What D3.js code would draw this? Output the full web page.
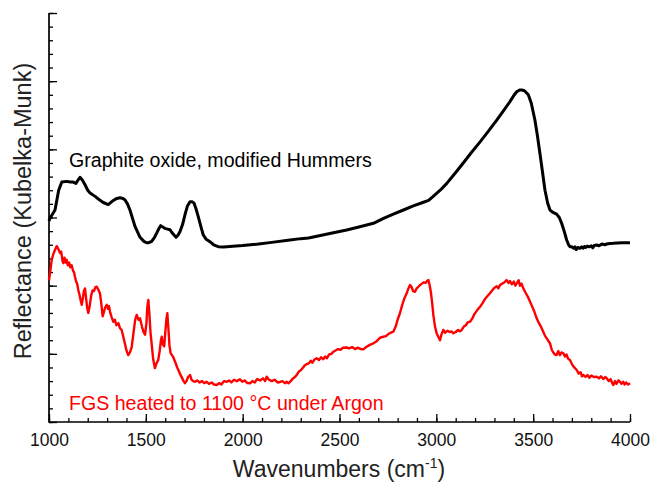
<!DOCTYPE html>
<html>
<head>
<meta charset="utf-8">
<script src="https://cdn.jsdelivr.net/npm/d3@7/dist/d3.min.js"></script>
<style>
html,body{margin:0;padding:0;background:#fff;}
svg{display:block;font-family:"Liberation Sans",Arial,sans-serif;}
</style>
</head>
<body>
<svg id="chart" width="654" height="490"></svg>
<script>
// ---- data (wavenumber cm-1, reflectance in arbitrary units) ----
const graphiteOxide = [
[1000,2.95],[1005,2.99],[1031,3.11],[1050,3.40],[1066,3.52],[1091,3.53],[1110,3.52],[1125,3.52],[1139,3.50],[1150,3.55],
[1160,3.59],[1172,3.55],[1186,3.48],[1200,3.40],[1212,3.36],[1238,3.31],[1260,3.26],[1280,3.22],[1306,3.19],[1332,3.25],
[1350,3.28],[1367,3.29],[1380,3.28],[1392,3.26],[1405,3.20],[1418,3.11],[1444,2.87],[1470,2.71],[1490,2.65],[1504,2.63],
[1515,2.63],[1530,2.65],[1545,2.71],[1556,2.77],[1568,2.84],[1577,2.88],[1588,2.86],[1599,2.84],[1612,2.83],[1625,2.82],
[1640,2.76],[1656,2.71],[1666,2.74],[1676,2.79],[1690,2.90],[1702,3.04],[1715,3.17],[1728,3.23],[1740,3.23],[1749,3.21],
[1760,3.12],[1771,3.01],[1785,2.86],[1797,2.74],[1812,2.68],[1831,2.645],[1850,2.60],[1874,2.572],[1900,2.568],[1918,2.572],
[1950,2.578],[2000,2.588],[2072,2.607],[2150,2.635],[2244,2.67],[2300,2.69],[2340,2.70],[2365,2.714],[2450,2.765],[2537,2.817],
[2600,2.86],[2675,2.915],[2730,2.99],[2778,3.05],[2830,3.11],[2881,3.17],[2930,3.22],[2960,3.25],[2984,3.31],[3020,3.40],
[3054,3.50],[3100,3.66],[3139,3.80],[3180,3.95],[3226,4.11],[3270,4.27],[3312,4.43],[3350,4.58],[3380,4.70],[3400,4.79],
[3415,4.845],[3430,4.87],[3441,4.87],[3455,4.86],[3475,4.80],[3490,4.68],[3509,4.43],[3522,4.20],[3535,3.94],[3548,3.67],
[3561,3.40],[3575,3.21],[3587,3.11],[3600,3.08],[3621,3.05],[3635,3.00],[3647,2.915],[3660,2.80],[3673,2.67],[3683,2.60],
[3690,2.572],[3700,2.57],[3708,2.55],[3715,2.57],[3722,2.53],[3730,2.56],[3742,2.548],[3750,2.57],[3758,2.55],[3765,2.575],
[3772,2.56],[3780,2.58],[3790,2.57],[3800,2.585],[3808,2.555],[3815,2.59],[3828,2.597],[3840,2.585],[3855,2.61],[3870,2.60],
[3885,2.615],[3900,2.62],[3914,2.621],[3935,2.625],[3960,2.63],[3980,2.628],[4000,2.63]
];
const fgsArgon = [
[1000,2.08],[1007,2.22],[1014,2.38],[1022,2.46],[1030,2.52],[1040,2.58],[1048,2.54],[1057,2.48],[1063,2.50],[1070,2.36],
[1074,2.33],[1080,2.41],[1086,2.34],[1091,2.38],[1097,2.30],[1104,2.34],[1110,2.27],[1117,2.30],[1124,2.22],[1130,2.19],
[1134,2.13],[1140,2.06],[1146,2.02],[1151,1.94],[1158,1.86],[1164,1.78],[1169,1.72],[1175,1.82],[1180,1.92],[1186,1.96],
[1192,1.80],[1198,1.66],[1203,1.60],[1210,1.70],[1218,1.86],[1225,1.93],[1232,1.92],[1240,1.98],[1246,1.985],[1255,1.94],
[1263,1.89],[1270,1.74],[1277,1.55],[1284,1.62],[1290,1.68],[1298,1.72],[1305,1.66],[1310,1.70],[1315,1.62],[1322,1.55],
[1332,1.47],[1340,1.50],[1348,1.42],[1358,1.45],[1366,1.38],[1375,1.35],[1383,1.26],[1392,1.15],[1400,1.05],[1409,0.98],
[1418,1.02],[1427,1.10],[1436,1.30],[1445,1.50],[1453,1.57],[1462,1.50],[1470,1.52],[1480,1.40],[1488,1.32],[1496,1.28],
[1503,1.45],[1508,1.70],[1513,1.79],[1518,1.60],[1524,1.32],[1530,1.15],[1538,0.92],[1547,0.79],[1555,0.86],[1564,0.91],
[1572,1.05],[1578,1.20],[1582,1.25],[1588,1.14],[1595,1.11],[1600,1.30],[1606,1.50],[1611,1.595],[1617,1.35],[1622,1.12],
[1628,1.01],[1640,0.96],[1651,0.885],[1662,0.80],[1676,0.71],[1688,0.64],[1695,0.60],[1702,0.57],[1710,0.60],[1718,0.66],
[1728,0.69],[1736,0.62],[1745,0.60],[1754,0.59],[1765,0.61],[1778,0.58],[1790,0.60],[1802,0.57],[1814,0.59],[1826,0.56],
[1840,0.58],[1852,0.55],[1866,0.543],[1878,0.57],[1890,0.55],[1904,0.60],[1918,0.59],[1930,0.61],[1942,0.58],[1955,0.62],
[1970,0.60],[1986,0.626],[1998,0.59],[2010,0.61],[2024,0.57],[2038,0.568],[2050,0.60],[2062,0.58],[2075,0.63],[2090,0.61],
[2105,0.64],[2116,0.60],[2124,0.665],[2136,0.62],[2150,0.60],[2165,0.62],[2180,0.58],[2193,0.587],[2205,0.60],[2218,0.57],
[2228,0.59],[2236,0.568],[2248,0.60],[2260,0.64],[2270,0.66],[2279,0.689],[2290,0.74],[2300,0.76],[2312,0.80],[2320,0.83],
[2331,0.851],[2342,0.86],[2352,0.90],[2360,0.87],[2372,0.92],[2382,0.934],[2394,0.91],[2405,0.95],[2416,0.92],[2426,0.96],
[2434,0.934],[2446,0.99],[2458,1.00],[2468,1.031],[2480,1.05],[2492,1.07],[2505,1.06],[2518,1.09],[2537,1.093],[2550,1.08],
[2565,1.10],[2580,1.07],[2595,1.09],[2610,1.07],[2623,1.066],[2638,1.10],[2650,1.12],[2662,1.14],[2675,1.154],[2690,1.18],
[2700,1.21],[2712,1.24],[2726,1.251],[2740,1.26],[2752,1.29],[2765,1.31],[2778,1.325],[2790,1.40],[2800,1.50],[2812,1.595],
[2822,1.70],[2833,1.80],[2847,1.888],[2856,1.96],[2864,2.01],[2872,1.98],[2880,1.92],[2890,1.911],[2898,1.96],[2906,1.98],
[2916,2.01],[2926,2.03],[2936,2.05],[2945,2.04],[2952,2.07],[2959,2.083],[2966,2.00],[2972,1.90],[2978,1.76],[2985,1.56],
[2993,1.40],[3002,1.30],[3010,1.25],[3019,1.20],[3026,1.28],[3036,1.35],[3046,1.31],[3058,1.34],[3068,1.32],[3078,1.33],
[3088,1.301],[3100,1.32],[3112,1.35],[3122,1.33],[3131,1.35],[3142,1.40],[3152,1.42],[3162,1.46],[3174,1.471],[3186,1.52],
[3196,1.58],[3206,1.62],[3216,1.66],[3226,1.691],[3238,1.74],[3250,1.80],[3262,1.84],[3277,1.888],[3288,1.93],[3300,1.97],
[3312,1.99],[3320,1.96],[3329,2.01],[3340,2.03],[3352,2.05],[3363,2.083],[3372,2.04],[3380,2.07],[3390,2.02],[3400,2.06],
[3408,2.00],[3415,2.035],[3425,2.08],[3432,2.00],[3440,2.03],[3449,1.961],[3460,1.90],[3472,1.84],[3484,1.765],[3494,1.70],
[3506,1.62],[3518,1.521],[3530,1.45],[3540,1.40],[3552,1.325],[3562,1.26],[3572,1.22],[3580,1.18],[3587,1.154],[3596,1.06],
[3604,1.02],[3612,0.99],[3621,0.983],[3630,1.04],[3638,0.98],[3646,1.02],[3656,1.008],[3664,0.96],[3672,0.99],[3680,0.93],
[3690,0.909],[3700,0.85],[3712,0.80],[3725,0.763],[3735,0.71],[3745,0.73],[3752,0.67],[3760,0.689],[3770,0.66],[3780,0.69],
[3790,0.65],[3800,0.68],[3814,0.66],[3828,0.665],[3840,0.64],[3850,0.67],[3862,0.63],[3872,0.66],[3880,0.641],[3890,0.60],
[3900,0.63],[3908,0.57],[3914,0.543],[3922,0.60],[3930,0.56],[3940,0.61],[3948,0.591],[3956,0.56],[3965,0.59],[3972,0.55],
[3980,0.58],[3990,0.55],[4000,0.568]
];
const xMajorTicks = [1000,1500,2000,2500,3000,3500,4000];
const xMinorStep = 100;
const yMajorTicks = [0,1,2,3,4,5,6];
const yMinorStep = 0.2;
const seriesLabels = ["Graphite oxide, modified Hummers","FGS heated to 1100 \u00B0C under Argon"];
const xTitle = "Wavenumbers (cm";
const yTitle = "Reflectance (Kubelka-Munk)";

// ---- layout ----
const svg = d3.select("#chart");
const pL = 49, pR = 630, pT = 13, pB = 422;
const x = d3.scaleLinear().domain([1000,4000]).range([pL,pR]);
const y = d3.scaleLinear().domain([0,6]).range([pB,pT]);

const xMinor = d3.range(1000, 4000 + 1, xMinorStep);
const yMinor = d3.range(0, 30 + 1).map(i => +(i*yMinorStep).toFixed(2));

// x axis: minor ticks
svg.append("g").attr("transform",`translate(0,${pB})`)
  .call(d3.axisBottom(x).tickValues(xMinor).tickSize(-4).tickFormat(""))
  .call(g => g.select(".domain").remove())
  .selectAll("line").attr("stroke","#000").attr("stroke-width",1.3);
// x axis: major ticks + labels
svg.append("g").attr("transform",`translate(0,${pB})`)
  .call(d3.axisBottom(x).tickValues(xMajorTicks).tickSize(-8).tickPadding(11.5).tickFormat(d3.format("d")))
  .call(g => g.select(".domain").remove())
  .call(g => g.selectAll("line").attr("stroke","#000").attr("stroke-width",1.3))
  .call(g => g.selectAll("text").attr("font-size",17.5).attr("fill","#111")
      .attr("font-family","'Liberation Sans',Arial,sans-serif"));
// y axis: minor & major ticks
svg.append("g").attr("transform",`translate(${pL},0)`)
  .call(d3.axisLeft(y).tickValues(yMinor).tickSize(-4).tickFormat(""))
  .call(g => g.select(".domain").remove())
  .selectAll("line").attr("stroke","#000").attr("stroke-width",1.3);
svg.append("g").attr("transform",`translate(${pL},0)`)
  .call(d3.axisLeft(y).tickValues(yMajorTicks).tickSize(-8).tickFormat(""))
  .call(g => g.select(".domain").remove())
  .selectAll("line").attr("stroke","#000").attr("stroke-width",1.3);
// axis lines
svg.append("path")
  .attr("d",`M${pL},${pT}V${pB}H${pR}`)
  .attr("fill","none").attr("stroke","#000").attr("stroke-width",1.7);

// ---- lines ----
const line = d3.line().x(d => x(d[0])).y(d => y(d[1]));
svg.append("path").datum(graphiteOxide).attr("d",line)
  .attr("fill","none").attr("stroke","#000").attr("stroke-width",3).attr("stroke-linejoin","round");
svg.append("path").datum(fgsArgon).attr("d",line)
  .attr("fill","none").attr("stroke","#ff0000").attr("stroke-width",2.4).attr("stroke-linejoin","round");

// ---- labels ----
svg.append("text").attr("x",69).attr("y",167).attr("font-size",19.6).attr("fill","#000")
  .text(seriesLabels[0]);
svg.append("text").attr("x",69).attr("y",410).attr("font-size",19.6).attr("fill","#ff0000")
  .text(seriesLabels[1]);

const xt = svg.append("text").attr("x",339).attr("y",477).attr("text-anchor","middle")
  .attr("font-size",23).attr("fill","#222");
xt.append("tspan").text(xTitle);
xt.append("tspan").attr("dy",-9).attr("font-size",14).text("-1");
xt.append("tspan").attr("dy",9).text(")");

svg.append("text").attr("transform","translate(31,211) rotate(-90)").attr("text-anchor","middle")
  .attr("font-size",23.5).attr("fill","#222").text(yTitle);
</script>
</body>
</html>
